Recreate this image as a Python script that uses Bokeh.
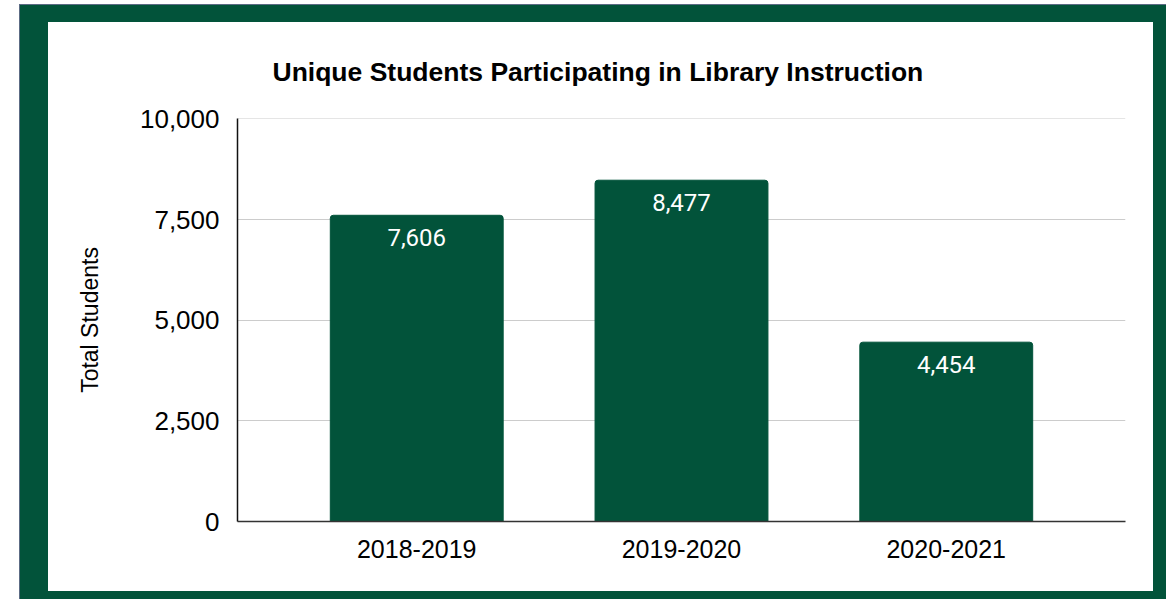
from bokeh.plotting import figure
from bokeh.models import ColumnDataSource, Title, FactorRange, NumeralTickFormatter, FixedTicker
from bokeh.layouts import column
from bokeh.core.properties import value
from bokeh.embed import file_html
from bokeh.resources import INLINE

# Data
years = ["2018-2019", "2019-2020", "2020-2021"]
students = [7606, 8477, 4454]
labels = ["7,606", "8,477", "4,454"]
y_ticks = [0, 2500, 5000, 7500, 10000]

GREEN = "#02533A"

src = ColumnDataSource(dict(x=years, y=students, lab=labels))

p = figure(
    x_range=FactorRange(*years, range_padding=0.177, range_padding_units="absolute"),
    y_range=(0, 10010),
    width=1105, height=569,
    output_backend="svg", toolbar_location=None,
    min_border_left=189, min_border_right=28, min_border_top=96, min_border_bottom=70,
    background_fill_color="white", border_fill_color="white",
    outline_line_color=None,
)

p.vbar(x="x", top="y", width=0.653, source=src, fill_color=GREEN, line_color=GREEN,
       border_radius=(3, 3, 0, 0))

p.text(x="x", y="y", text="lab", source=src, text_color="white",
       text_font=value("Roboto"), text_font_size="24px",
       text_align="center", text_baseline="middle", y_offset=22)

# axes
p.yaxis.ticker = FixedTicker(ticks=y_ticks)
p.yaxis.formatter = NumeralTickFormatter(format="0,0")
p.yaxis.axis_label = "Total Students"
p.yaxis.axis_label_text_font = "Liberation Sans"
p.yaxis.axis_label_text_font_style = "normal"
p.yaxis.axis_label_text_font_size = "23px"
p.yaxis.axis_label_text_color = "black"
p.yaxis.axis_label_standoff = 34
p.yaxis.major_label_text_font = "Liberation Sans"
p.yaxis.major_label_text_font_size = "26px"
p.yaxis.major_label_text_color = "black"
p.yaxis.major_label_standoff = 12
p.yaxis.major_tick_line_color = None
p.yaxis.minor_tick_line_color = None
p.yaxis.axis_line_color = "#111111"
p.yaxis.axis_line_width = 1.5

p.xaxis.major_label_text_font = "Liberation Sans"
p.xaxis.major_label_text_font_size = "25px"
p.xaxis.major_label_text_color = "black"
p.xaxis.major_label_standoff = 12
p.xaxis.major_tick_line_color = None
p.xaxis.axis_line_color = "#333333"
p.xaxis.axis_line_width = 1.5

p.xgrid.grid_line_color = None
p.ygrid.grid_line_color = "#cccccc"
p.ygrid.grid_line_width = 1

title = Title(text="Unique Students Participating in Library Instruction",
              text_font="Liberation Sans", text_font_style="bold", text_font_size="26.5px",
              text_color="black", align="left", offset=35, standoff=64)
p.add_layout(title, "above")

inner = column(p, margin=(17, 14, 9, 28), styles={"background-color": "white"})
layout = column(inner, margin=(4, 0, 0, 19),
                styles={"background-color": GREEN,
                        "border-top": "1px solid #5c6b84",
                        "border-left": "1px solid #5c6b84"})

open("out.html", "w").write(file_html(layout, INLINE))
